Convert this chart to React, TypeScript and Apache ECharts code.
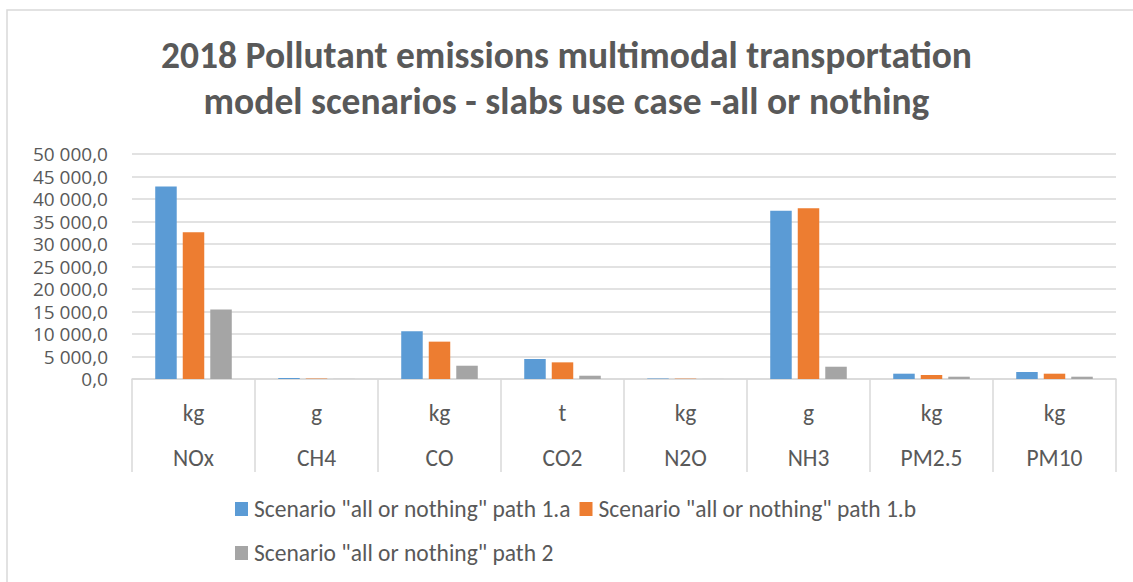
import React, { useEffect, useRef } from "react";
import * as echarts from "echarts";

const categories = ["NOx", "CH4", "CO", "CO2", "N2O", "NH3", "PM2.5", "PM10"];
const units = ["kg", "g", "kg", "t", "kg", "g", "kg", "kg"];
const seriesNames = [
  'Scenario "all or nothing" path 1.a',
  'Scenario "all or nothing" path 1.b',
  'Scenario "all or nothing" path 2',
];
const path1a = [42800, 220, 10600, 4450, 110, 37400, 1180, 1550];
const path1b = [32600, 100, 8300, 3700, 80, 37950, 890, 1180];
const path2 = [15450, 20, 2950, 730, 10, 2730, 510, 510];
const yTicks = { min: 0, max: 50000, interval: 5000 };
const titleText =
  "2018 Pollutant emissions multimodal transportation\nmodel scenarios - slabs use case -all or nothing";

const FONT = "Carlito, Calibri, Lato, sans-serif";
const YFONT = "'Open Sans', Lato, sans-serif";
const TEXT = "#595959";
const GRID = "#D9D9D9";
const COLORS = ["#5B9BD5", "#ED7D31", "#A5A5A5"];
const FS = 23.5;

function fmt(v: number): string {
  const s = v.toFixed(1).replace(".", ",");
  const [i, d] = s.split(",");
  return i.replace(/\B(?=(\d{3})+(?!\d))/g, " ") + "," + d;
}

export default function App() {
  const ref = useRef<HTMLDivElement>(null);
  useEffect(() => {
    document.body.style.margin = "0";
    const chart = echarts.init(ref.current!, null, { renderer: "svg" });
    const data = [path1a, path1b, path2];
    const legendText = { fontFamily: FONT, fontSize: FS, color: TEXT, padding: [0, 0, 0, 1] };
    chart.setOption({
      animation: false,
      backgroundColor: "#fff",
      color: COLORS,
      title: {
        text: titleText,
        left: "center",
        top: 27,
        padding: [5, 0, 5, 38],
        textStyle: {
          fontFamily: FONT,
          fontSize: 37.5,
          fontWeight: "bold",
          color: TEXT,
          lineHeight: 46,
        },
      },
      graphic: [
        {
          type: "rect",
          shape: { x: 7, y: 10, width: 1200, height: 700 },
          style: { fill: "none", stroke: GRID, lineWidth: 1.5 },
          silent: true,
        },
      ],
      legend: [
        {
          data: [seriesNames[0], seriesNames[1]],
          left: 230,
          top: 492,
          itemWidth: 13,
          itemHeight: 14,
          itemGap: 9,
          icon: "rect",
          textStyle: legendText,
        },
        {
          data: [seriesNames[2]],
          left: 230,
          top: 536,
          itemWidth: 13,
          itemHeight: 14,
          itemGap: 9,
          icon: "rect",
          textStyle: legendText,
        },
      ],
      grid: { left: 132, right: 17, top: 154, bottom: 203, containLabel: false },
      xAxis: [
        {
          type: "category",
          data: categories,
          position: "bottom",
          axisLine: { show: true, lineStyle: { color: GRID, width: 1.5 } },
          axisTick: { show: true, length: 93, lineStyle: { color: GRID, width: 1.5 } },
          axisLabel: {
            margin: 22,
            fontFamily: FONT,
            fontSize: FS,
            color: TEXT,
            formatter: (_v: string, i: number) => units[i],
          },
        },
        {
          type: "category",
          data: categories,
          position: "bottom",
          offset: 45,
          axisLine: { show: false },
          axisTick: { show: false },
          axisLabel: { margin: 22, fontFamily: FONT, fontSize: FS, color: TEXT },
        },
      ],
      yAxis: {
        type: "value",
        min: yTicks.min,
        max: yTicks.max,
        interval: yTicks.interval,
        axisLine: { show: false },
        axisTick: { show: false },
        splitLine: { lineStyle: { color: GRID, width: 1.5 } },
        axisLabel: {
          margin: 24,
          fontFamily: YFONT,
          fontSize: 19,
          lineHeight: 19,
          color: TEXT,
          showMinLabel: true,
          showMaxLabel: true,
          hideOverlap: false,
          formatter: (v: number) => fmt(v),
        },
      },
      series: data.map((d, k) => ({
        name: seriesNames[k],
        type: "bar",
        xAxisIndex: 0,
        data: d,
        barWidth: 21.5,
        barGap: "28%",
      })),
    });
    return () => chart.dispose();
  }, []);
  return <div ref={ref} style={{ width: 1133, height: 582 }} />;
}
